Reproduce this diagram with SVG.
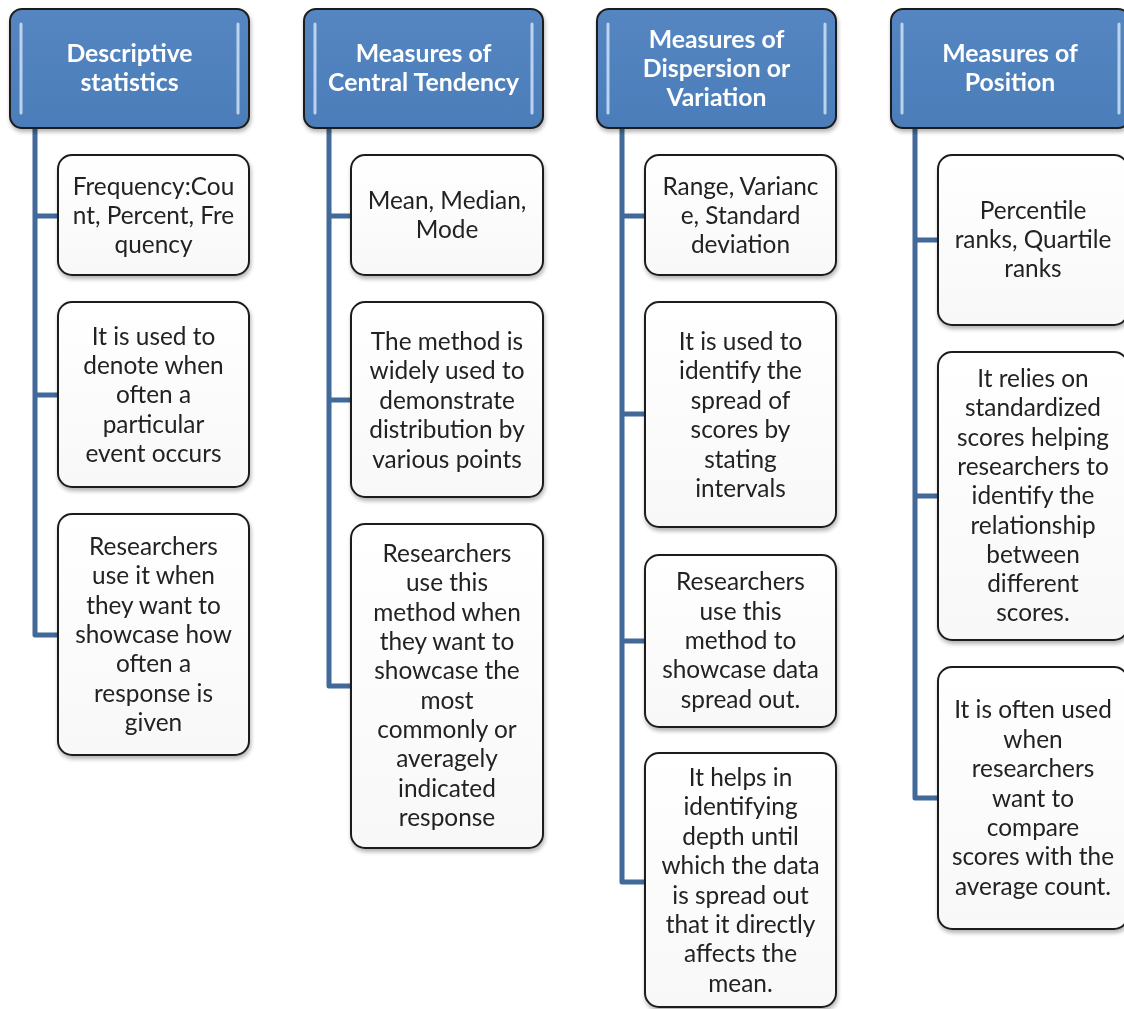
<svg xmlns="http://www.w3.org/2000/svg" width="1124" height="1009" viewBox="0 0 1124 1009">
  <defs>
    <linearGradient id="hdrFill" x1="0" y1="0" x2="0" y2="1">
      <stop offset="0" stop-color="#5586c2"/>
      <stop offset="1" stop-color="#4b7db9"/>
    </linearGradient>
    <linearGradient id="boxFill" x1="0" y1="0" x2="0" y2="1">
      <stop offset="0" stop-color="#ffffff"/>
      <stop offset="1" stop-color="#f8f8f8"/>
    </linearGradient>
    <filter id="shadow" x="-10%" y="-10%" width="125%" height="125%">
      <feGaussianBlur in="SourceAlpha" stdDeviation="2"/>
      <feOffset dx="1" dy="3" result="off"/>
      <feComponentTransfer><feFuncA type="linear" slope="0.3"/></feComponentTransfer>
      <feMerge><feMergeNode/><feMergeNode in="SourceGraphic"/></feMerge>
    </filter>
  </defs>
  <style>
    .hdr { fill: url(#hdrFill); stroke: #1e1e1e; stroke-width: 2; }
    .shine { stroke: #cfe2f6; stroke-width: 3; stroke-linecap: round; opacity: 0.85; }
    .box { fill: url(#boxFill); stroke: #1e1e1e; stroke-width: 2; }
    .conn { fill: none; stroke: #41699a; stroke-width: 5; stroke-linejoin: round; }
    .ht { font-family: Lato, "Open Sans", sans-serif; font-weight: bold; font-size: 24.8px; fill: #ffffff; text-anchor: middle; }
    .bt { font-family: Lato, "Open Sans", sans-serif; font-size: 24.4px; fill: #222222; text-anchor: middle; }
  </style>

  <rect width="1124" height="1009" fill="#ffffff"/>

  <!-- tree connectors -->
  <g id="connectors" class="conn">
    <path d="M35 128 V635 H58 M35 216 H58 M35 395 H58"/>
    <path d="M329 128 V686 H351 M329 216 H351 M329 400 H351"/>
    <path d="M622 128 V882 H645 M622 216 H645 M622 414 H645 M622 641 H645"/>
    <path d="M915 128 V798 H938 M915 240 H938 M915 496 H938"/>
  </g>

  <!-- column headers -->
  <g id="hdr-descriptive" filter="url(#shadow)">
    <rect class="hdr" x="10" y="9" width="239" height="119" rx="12"/>
    <line class="shine" x1="21" y1="24" x2="21" y2="113"/>
    <line class="shine" x1="238" y1="24" x2="238" y2="113"/>
    <text class="ht" x="129.5" y="62">Descriptive</text>
    <text class="ht" x="129.5" y="91">statistics</text>
  </g>
  <g id="hdr-central" filter="url(#shadow)">
    <rect class="hdr" x="304" y="9" width="239" height="119" rx="12"/>
    <line class="shine" x1="315" y1="24" x2="315" y2="113"/>
    <line class="shine" x1="532" y1="24" x2="532" y2="113"/>
    <text class="ht" x="423.5" y="62">Measures of</text>
    <text class="ht" x="423.5" y="91">Central Tendency</text>
  </g>
  <g id="hdr-dispersion" filter="url(#shadow)">
    <rect class="hdr" x="597" y="9" width="239" height="119" rx="12"/>
    <line class="shine" x1="608" y1="24" x2="608" y2="113"/>
    <line class="shine" x1="825" y1="24" x2="825" y2="113"/>
    <text class="ht" x="716.5" y="48">Measures of</text>
    <text class="ht" x="716.5" y="77">Dispersion or</text>
    <text class="ht" x="716.5" y="106">Variation</text>
  </g>
  <g id="hdr-position" filter="url(#shadow)">
    <rect class="hdr" x="891" y="9" width="239" height="119" rx="12"/>
    <line class="shine" x1="902" y1="24" x2="902" y2="113"/>
    <line class="shine" x1="1119" y1="24" x2="1119" y2="113"/>
    <text class="ht" x="1010" y="62">Measures of</text>
    <text class="ht" x="1010" y="91">Position</text>
  </g>

  <!-- column 1: descriptive statistics -->
  <g id="desc-1" filter="url(#shadow)">
    <rect class="box" x="58" y="155" width="191" height="120" rx="14"/>
    <text class="bt" x="153.5" y="195">Frequency:Cou</text>
    <text class="bt" x="153.5" y="224">nt, Percent, Fre</text>
    <text class="bt" x="153.5" y="253">quency</text>
  </g>
  <g id="desc-2" filter="url(#shadow)">
    <rect class="box" x="58" y="302" width="191" height="185" rx="14"/>
    <text class="bt" x="153.5" y="345">It is used to</text>
    <text class="bt" x="153.5" y="374">denote when</text>
    <text class="bt" x="153.5" y="403">often a</text>
    <text class="bt" x="153.5" y="433">particular</text>
    <text class="bt" x="153.5" y="462">event occurs</text>
  </g>
  <g id="desc-3" filter="url(#shadow)">
    <rect class="box" x="58" y="514" width="191" height="241" rx="14"/>
    <text class="bt" x="153.5" y="555">Researchers</text>
    <text class="bt" x="153.5" y="584">use it when</text>
    <text class="bt" x="153.5" y="614">they want to</text>
    <text class="bt" x="153.5" y="643">showcase how</text>
    <text class="bt" x="153.5" y="672">often a</text>
    <text class="bt" x="153.5" y="702">response is</text>
    <text class="bt" x="153.5" y="731">given</text>
  </g>

  <!-- column 2: central tendency -->
  <g id="central-1" filter="url(#shadow)">
    <rect class="box" x="351" y="155" width="192" height="120" rx="14"/>
    <text class="bt" x="447" y="209">Mean, Median,</text>
    <text class="bt" x="447" y="238">Mode</text>
  </g>
  <g id="central-2" filter="url(#shadow)">
    <rect class="box" x="351" y="302" width="192" height="195" rx="14"/>
    <text class="bt" x="447" y="350">The method is</text>
    <text class="bt" x="447" y="379">widely used to</text>
    <text class="bt" x="447" y="409">demonstrate</text>
    <text class="bt" x="447" y="438">distribution by</text>
    <text class="bt" x="447" y="468">various points</text>
  </g>
  <g id="central-3" filter="url(#shadow)">
    <rect class="box" x="351" y="524" width="192" height="324" rx="14"/>
    <text class="bt" x="447" y="562">Researchers</text>
    <text class="bt" x="447" y="591">use this</text>
    <text class="bt" x="447" y="621">method when</text>
    <text class="bt" x="447" y="650">they want to</text>
    <text class="bt" x="447" y="679">showcase the</text>
    <text class="bt" x="447" y="709">most</text>
    <text class="bt" x="447" y="738">commonly or</text>
    <text class="bt" x="447" y="767">averagely</text>
    <text class="bt" x="447" y="797">indicated</text>
    <text class="bt" x="447" y="826">response</text>
  </g>

  <!-- column 3: dispersion or variation -->
  <g id="disp-1" filter="url(#shadow)">
    <rect class="box" x="645" y="155" width="191" height="120" rx="14"/>
    <text class="bt" x="740.5" y="195">Range, Varianc</text>
    <text class="bt" x="740.5" y="224">e, Standard</text>
    <text class="bt" x="740.5" y="253">deviation</text>
  </g>
  <g id="disp-2" filter="url(#shadow)">
    <rect class="box" x="645" y="302" width="191" height="225" rx="14"/>
    <text class="bt" x="740.5" y="350">It is used to</text>
    <text class="bt" x="740.5" y="379">identify the</text>
    <text class="bt" x="740.5" y="409">spread of</text>
    <text class="bt" x="740.5" y="438">scores by</text>
    <text class="bt" x="740.5" y="468">stating</text>
    <text class="bt" x="740.5" y="497">intervals</text>
  </g>
  <g id="disp-3" filter="url(#shadow)">
    <rect class="box" x="645" y="555" width="191" height="172" rx="14"/>
    <text class="bt" x="740.5" y="590">Researchers</text>
    <text class="bt" x="740.5" y="620">use this</text>
    <text class="bt" x="740.5" y="649">method to</text>
    <text class="bt" x="740.5" y="678">showcase data</text>
    <text class="bt" x="740.5" y="708">spread out.</text>
  </g>
  <g id="disp-4" filter="url(#shadow)">
    <rect class="box" x="645" y="753" width="191" height="254" rx="14"/>
    <text class="bt" x="740.5" y="786">It helps in</text>
    <text class="bt" x="740.5" y="815">identifying</text>
    <text class="bt" x="740.5" y="845">depth until</text>
    <text class="bt" x="740.5" y="874">which the data</text>
    <text class="bt" x="740.5" y="904">is spread out</text>
    <text class="bt" x="740.5" y="933">that it directly</text>
    <text class="bt" x="740.5" y="962">affects the</text>
    <text class="bt" x="740.5" y="992">mean.</text>
  </g>

  <!-- column 4: position -->
  <g id="pos-1" filter="url(#shadow)">
    <rect class="box" x="938" y="155" width="190" height="170" rx="14"/>
    <text class="bt" x="1033" y="219">Percentile</text>
    <text class="bt" x="1033" y="248">ranks, Quartile</text>
    <text class="bt" x="1033" y="277">ranks</text>
  </g>
  <g id="pos-2" filter="url(#shadow)">
    <rect class="box" x="938" y="352" width="190" height="288" rx="14"/>
    <text class="bt" x="1033" y="387">It relies on</text>
    <text class="bt" x="1033" y="416">standardized</text>
    <text class="bt" x="1033" y="446">scores helping</text>
    <text class="bt" x="1033" y="475">researchers to</text>
    <text class="bt" x="1033" y="504">identify the</text>
    <text class="bt" x="1033" y="534">relationship</text>
    <text class="bt" x="1033" y="563">between</text>
    <text class="bt" x="1033" y="592">different</text>
    <text class="bt" x="1033" y="621">scores.</text>
  </g>
  <g id="pos-3" filter="url(#shadow)">
    <rect class="box" x="938" y="667" width="190" height="262" rx="14"/>
    <text class="bt" x="1033" y="718">It is often used</text>
    <text class="bt" x="1033" y="748">when</text>
    <text class="bt" x="1033" y="777">researchers</text>
    <text class="bt" x="1033" y="807">want to</text>
    <text class="bt" x="1033" y="836">compare</text>
    <text class="bt" x="1033" y="865">scores with the</text>
    <text class="bt" x="1033" y="895">average count.</text>
  </g>
</svg>
